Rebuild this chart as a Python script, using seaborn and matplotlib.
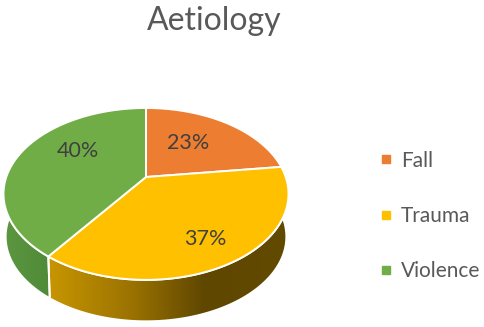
import numpy as np
import matplotlib
matplotlib.use("Agg")
import matplotlib.pyplot as plt
from matplotlib.colors import LinearSegmentedColormap
from matplotlib.lines import Line2D
from matplotlib.patches import Polygon
import seaborn as sns

categories = ["Fall", "Trauma", "Violence"]
shares = [23, 37, 40]
colors = ["#ED7D31", "#FFC000", "#70AD47"]
title = "Aetiology"

sns.set_theme(style="white")
plt.rcParams["font.family"] = ["Lato", "DejaVu Sans"]

W, H = 484, 327
fig = plt.figure(figsize=(W / 100, H / 100), dpi=100)
ax = fig.add_axes([0, 0, 1, 1])

# tilted-pie projection (unit disc -> pixels of the figure)
CX, CY, A, B, K = 146.0, 177.0, 82.6, 139.7, 0.197
def warp(pts, scale=1.0, drop=0.0):
    pts = np.asarray(pts)
    d = 1 + K * pts[:, 1]
    return np.column_stack([CX + scale * B * pts[:, 0] / d,
                            CY + drop - scale * A * pts[:, 1] / d])

wedges, _ = ax.pie(shares, startangle=90, counterclock=False, radius=1, center=(0, 0))
arcs = []
for w in wedges:
    t = np.radians(np.linspace(w.theta1, w.theta2, 240))
    arcs.append(np.column_stack([np.cos(t), np.sin(t)]))
    w.remove()

wall_cmaps = {
    1: LinearSegmentedColormap.from_list(
        "y", [(0, "#C89600"), (0.35, "#9A7200"), (0.65, "#5F4700"), (1, "#624A00")]),
    2: LinearSegmentedColormap.from_list("g", ["#5C9640", "#4F8A38"]),
}
grad = np.linspace(0, 1, 256).reshape(1, -1)
for i, cmap in wall_cmaps.items():
    arc = arcs[i][arcs[i][:, 1] < 0.2]
    top = warp(arc)
    bot = warp(arc, scale=0.985, drop=43)
    outline = np.vstack([top, bot[::-1]])
    x0, x1 = outline[:, 0].min(), outline[:, 0].max()
    poly = Polygon(outline, closed=True, facecolor="none", edgecolor="white", lw=1.4, zorder=2)
    ax.add_patch(poly)
    im = ax.imshow(grad, cmap=cmap, extent=[x0, x1, outline[:, 1].max(), outline[:, 1].min()],
                   aspect="auto", zorder=1)
    im.set_clip_path(poly)

for arc, c in zip(arcs, colors):
    ax.add_patch(Polygon(warp(np.vstack([[0, 0], arc])), closed=True, facecolor=c,
                         edgecolor="white", lw=1.4, joinstyle="round", zorder=3))

label_xy = [(188, 143), (205, 239), (78, 151)]
for v, (x, y) in zip(shares, label_xy):
    ax.text(x, y, f"{v}%", ha="center", va="center", fontsize=15.5, color="#404040", zorder=5)

ax.text(214, 21, title, ha="center", va="center", fontsize=23, color="#595959")

handles = [Line2D([], [], ls="none", marker="s", ms=6, color=c) for c in colors]
ax.legend(handles, categories, loc="center left", bbox_to_anchor=(378 / W, 1 - 216 / H),
          bbox_transform=ax.transAxes, frameon=False, fontsize=15, labelcolor="#595959",
          labelspacing=1.7, handlelength=0.8, handletextpad=0.3, borderpad=0, borderaxespad=0)

ax.set_xlim(0, W)
ax.set_ylim(H, 0)
ax.set_aspect("auto")
ax.axis("off")
fig.savefig("out.png", dpi=100, facecolor="white")
